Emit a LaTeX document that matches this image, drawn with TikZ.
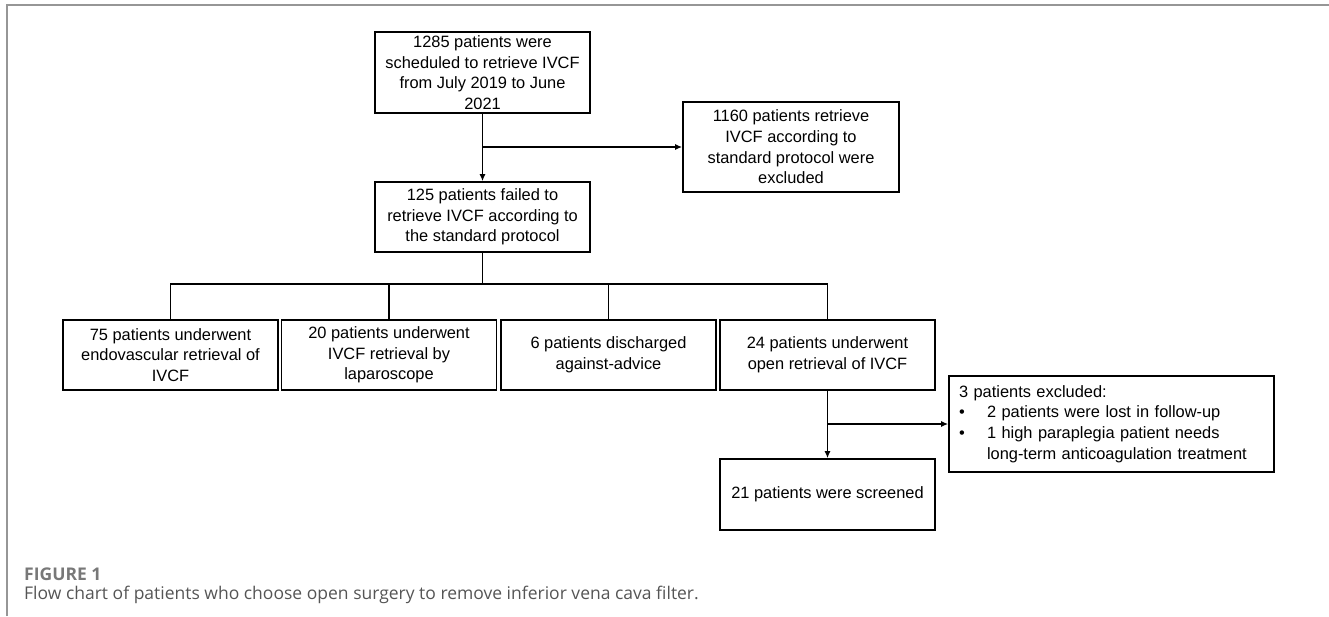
\documentclass[tikz,border=0pt]{standalone}
\usepackage{fontspec}
\setmainfont{Liberation Sans}
\newfontfamily\capfont{Open Sans}
\usepackage{tikz}
\usetikzlibrary{arrows.meta,positioning,calc}
\definecolor{frameGray}{RGB}{150,150,150}
\definecolor{capGray}{RGB}{120,120,120}
\definecolor{capText}{RGB}{85,85,85}
\newcommand{\bul}{\makebox[28pt][l]{\textbullet}}

\begin{document}
\begin{tikzpicture}[x=1pt,y=-1pt,
  box/.style={rectangle,draw=black,line width=1.6pt,
              minimum width=215pt,minimum height=70pt,inner sep=2pt,
              align=center,font=\fontsize{16.4}{20.7}\selectfont},
  flow/.style={line width=1.6pt,-{Latex[length=7pt,width=6pt]}},
  link/.style={line width=1.6pt}
]
\useasboundingbox (0,0) rectangle (1329,616);

% Figure frame
\draw[frameGray,line width=1.2pt] (7,616) -- (7,5) -- (1329,5);

% Top of the chart
\node[box,minimum height=81pt] (sched) at (482.5,72.5)
  {1285 patients were\\scheduled to retrieve IVCF\\from July 2019 to June\\2021};
\node[box,minimum width=216pt,minimum height=90pt] (std) at (791,147)
  {1160 patients retrieve\\IVCF according to\\standard protocol were\\excluded};
\node[box] (failed) at (482.5,217)
  {125 patients failed to\\retrieve IVCF according to\\the standard protocol};

% Bottom row
\foreach \nm/\x/\lbl in {
  endo/170.5/{75 patients underwent\\endovascular retrieval of\\IVCF},
  lap/389/{20 patients underwent\\IVCF retrieval by\\laparoscope},
  disc/608.5/{6 patients discharged\\against-advice},
  open/827.5/{24 patients underwent\\open retrieval of IVCF}}
{
  \node[box] (\nm) at (\x,355) {\lbl};
}

\node[box,minimum height=71pt] (screen) at (827.5,494.5) {21 patients were screened};
\node[box,minimum width=325pt,minimum height=96pt,text width=305pt,align=left]
  (lost) at (1111.5,424)
  {3 patients excluded:\\
   \bul 2 patients were lost in follow-up\\
   \bul 1 high paraplegia patient needs\\
   \hspace*{28pt}long-term anticoagulation treatment};

% Connectors
\coordinate (fork1) at (sched.south |- std.west);
\draw[flow] (sched.south) -- (failed.north);
\draw[flow] (fork1) -- (std.west);

\coordinate (split) at ($(failed.south)+(0,31)$);
\draw[link] (failed.south) -- (split);
\draw[link,line cap=rect] (endo.north |- split) -- (open.north |- split);
\foreach \nm in {endo,lap,disc,open}
  \draw[link] (\nm.north |- split) -- (\nm.north);

\coordinate (fork2) at (open.south |- lost.west);
\draw[flow] (open.south) -- (screen.north);
\draw[flow] (fork2) -- (lost.west);

% Caption
\node[anchor=base west,inner sep=0,text=capGray,
      font=\capfont\bfseries\fontsize{17.5}{20}\selectfont] (figlbl) at (24,580) {FIGURE 1};
\node[anchor=base west,inner sep=0,text=capText,
      font=\capfont\fontsize{17.5}{20}\selectfont] (figcap) at (24,599)
  {Flow chart of patients who choose open surgery to remove inferior vena cava filter.};
\end{tikzpicture}
\end{document}
